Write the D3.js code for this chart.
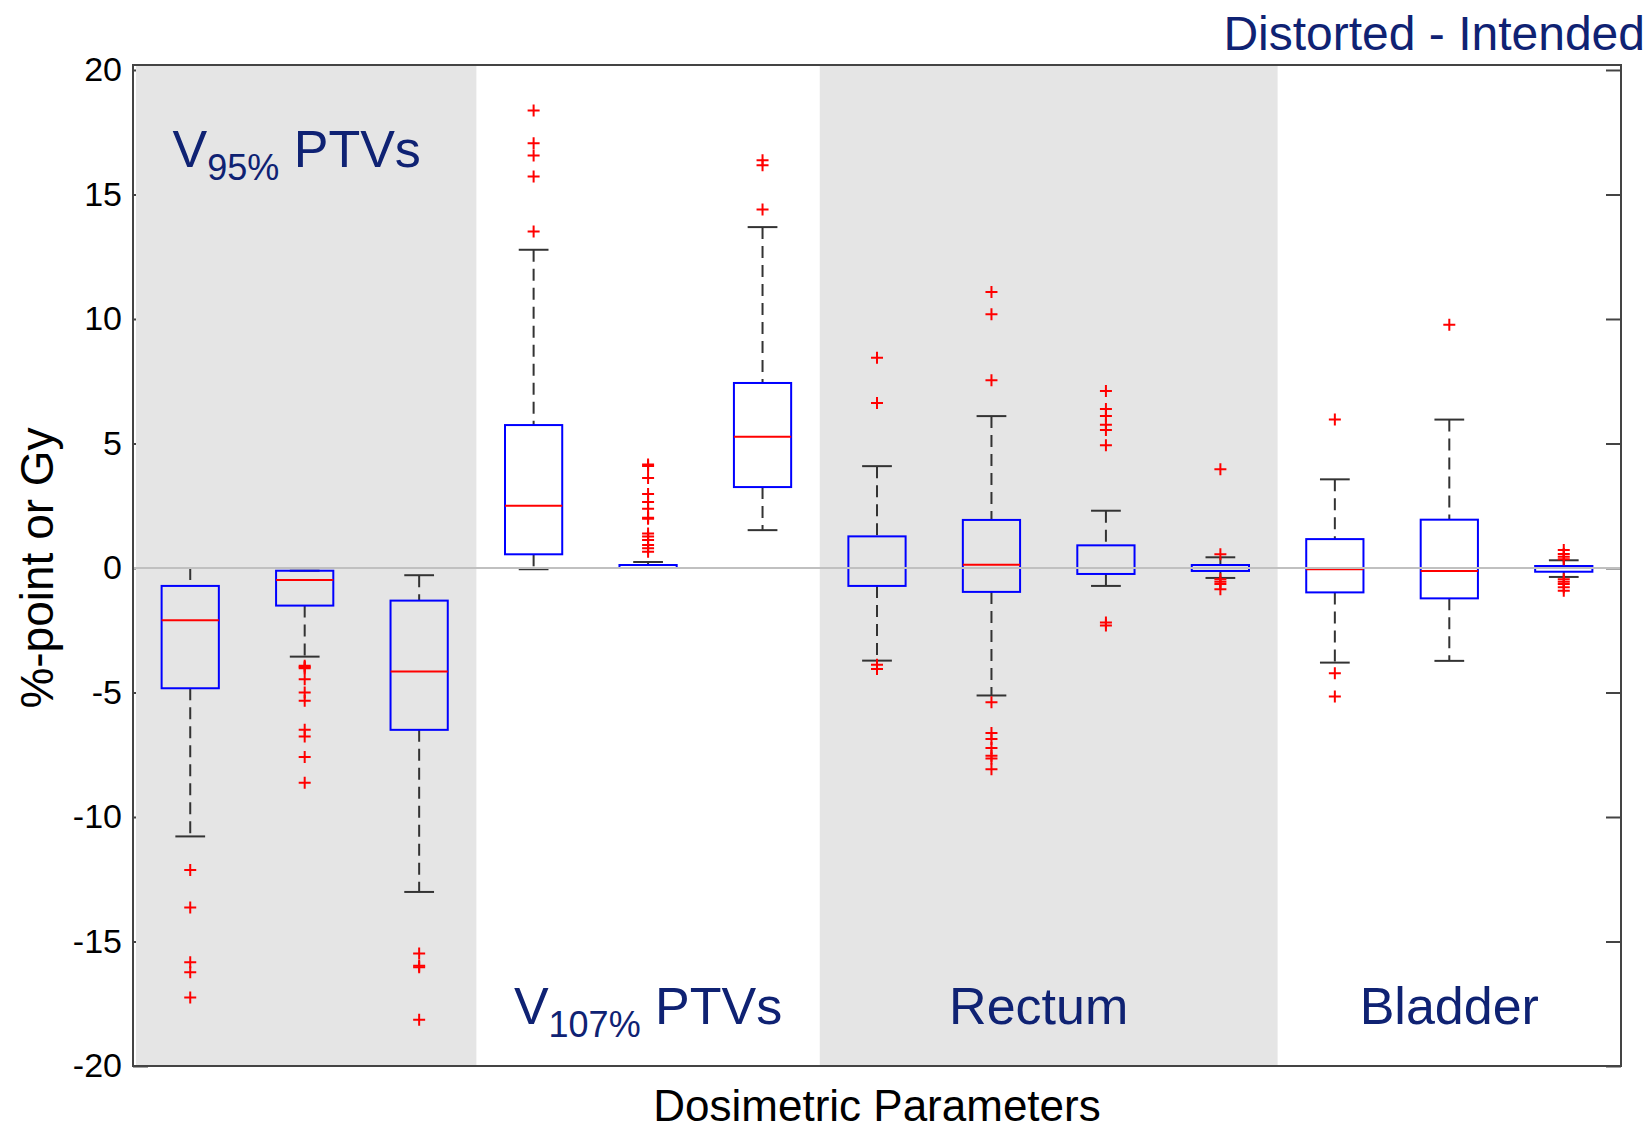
<!DOCTYPE html>
<html>
<head>
<meta charset="utf-8">
<script src="https://cdn.jsdelivr.net/npm/d3@7"></script>
<style>
body { margin:0px; padding:0px; background:#ffffff; }
svg { display:block; font-family:"Liberation Sans", Arial, Helvetica, sans-serif; }
</style>
</head>
<body>
<svg id="chart" width="1650" height="1130"></svg>
<script>
// one entry per box (13 dosimetric parameters)
var boxIds      = [1, 2, 3, 4, 5, 6, 7, 8, 9, 10, 11, 12, 13];
var whiskerLow  = [-10.78, -3.56, -13.01, -0.05, 0.00, 1.52, -3.72, -5.12, -0.72, -0.40, -3.80, -3.73, -0.36];
var quart1      = [-4.83, -1.51, -6.50, 0.55, 0.00, 3.25, -0.72, -0.96, -0.24, -0.12, -0.98, -1.22, -0.15];
var medians     = [-2.10, -0.48, -4.16, 2.50, 0.00, 5.27, 0.00, 0.13, 0.00, 0.00, -0.05, -0.12, 0.00];
var quart3      = [-0.72, -0.11, -1.31, 5.74, 0.12, 7.43, 1.27, 1.93, 0.91, 0.12, 1.16, 1.94, 0.08];
var whiskerHigh = [0.00, -0.11, -0.29, 12.78, 0.24, 13.69, 4.09, 6.10, 2.30, 0.43, 3.56, 5.96, 0.31];
var outliers = [
	[-12.13, -13.63, -15.83, -16.23, -17.25],
	[-3.93, -3.98, -4.03, -4.47, -5.00, -5.33, -6.50, -6.77, -7.59, -8.62],
	[-15.48, -15.97, -16.03, -18.14],
	[13.51, 15.72, 16.57, 17.06, 18.37],
	[0.65, 0.79, 0.92, 1.12, 1.26, 1.39, 1.98, 2.02, 2.38, 2.65, 2.97, 3.61, 4.10, 4.16],
	[14.40, 16.17, 16.37],
	[-3.89, -4.06, 6.63, 8.44],
	[-5.39, -6.63, -6.87, -7.23, -7.54, -7.65, -8.08, 7.54, 10.19, 11.08],
	[-2.19, -2.31, 4.93, 5.54, 5.75, 6.10, 6.39, 7.11],
	[-0.45, -0.55, -0.64, -0.85, 0.55, 3.97],
	[-4.23, -5.16, 5.96],
	[9.77],
	[-0.45, -0.55, -0.64, -0.77, -0.91, 0.35, 0.45, 0.56, 0.72]
];

// background groups
var groupMain   = ["V", "V", "Rectum", "Bladder"];
var groupSub    = ["95%", "107%", "", ""];
var groupRest   = [" PTVs", " PTVs", "", ""];
var groupStart  = [0.5, 3.5, 6.5, 10.5];
var groupEnd    = [3.5, 6.5, 10.5, 13.5];
var groupShaded = [true, false, true, false];

var yTicks = [-20, -15, -10, -5, 0, 5, 10, 15, 20];
var yTitle = "%-point or Gy";
var xTitle = "Dosimetric Parameters";
var topNote = "Distorted - Intended";

var svg = d3.select("#chart");
var plotL = 133, plotR = 1621, plotT = 65, plotB = 1066;
var navy = "#0f2273";

var x = d3.scaleLinear().domain([0.5, 13.5]).range([plotL, plotR]);
var y = d3.scaleLinear().domain([-20, 20.2]).range([plotB, plotT]);

// inward ticks, left and right (left ones end up mostly under the shading)
svg.append("g")
	.attr("transform", "translate(" + plotL + ",0)")
	.call(d3.axisRight(y).tickValues(yTicks).tickSize(15).tickFormat(""))
	.call(function(g) { g.select(".domain").remove(); })
	.selectAll("line").attr("stroke", "#444").attr("stroke-width", 2);
svg.append("g")
	.attr("transform", "translate(" + plotR + ",0)")
	.call(d3.axisLeft(y).tickValues(yTicks).tickSize(15).tickFormat(""))
	.call(function(g) { g.select(".domain").remove(); })
	.selectAll("line").attr("stroke", "#444").attr("stroke-width", 2);

// shaded bands
svg.selectAll("rect.band")
	.data(groupStart)
	.enter()
	.append("rect")
	.attr("class", "band")
	.attr("x", function(d) { return Math.max(x(d), plotL + 3); })
	.attr("y", plotT)
	.attr("width", function(d, i) { return x(groupEnd[i]) - Math.max(x(d), plotL + 3); })
	.attr("height", plotB - plotT)
	.attr("fill", function(d, i) { return groupShaded[i] ? "#e5e5e5" : "#ffffff"; })
	.attr("fill-opacity", function(d, i) { return groupShaded[i] ? 1 : 0; });

// tick labels (plain hyphen for negatives, like the original)
svg.append("g")
	.attr("transform", "translate(" + plotL + ",0)")
	.call(d3.axisLeft(y).tickValues(yTicks).tickSize(0).tickPadding(11)
		.tickFormat(function(d) { return String(d); }))
	.call(function(g) { g.select(".domain").remove(); })
	.selectAll("text")
	.attr("font-size", 34)
	.attr("font-family", "'Liberation Sans', Arial, sans-serif")
	.attr("fill", "#000");

var boxHalf = 0.25, capHalf = 0.13;
var boxes = svg.append("g").selectAll("g.box")
	.data(boxIds)
	.enter()
	.append("g")
	.attr("class", "box");

// whiskers
boxes.append("line")
	.attr("x1", function(d) { return x(d); })
	.attr("x2", function(d) { return x(d); })
	.attr("y1", function(d, i) { return y(whiskerHigh[i]); })
	.attr("y2", function(d, i) { return y(quart3[i]); })
	.attr("stroke", "#333").attr("stroke-width", 2).attr("stroke-dasharray", "12,7");
boxes.append("line")
	.attr("x1", function(d) { return x(d); })
	.attr("x2", function(d) { return x(d); })
	.attr("y1", function(d, i) { return y(quart1[i]); })
	.attr("y2", function(d, i) { return y(whiskerLow[i]); })
	.attr("stroke", "#333").attr("stroke-width", 2).attr("stroke-dasharray", "12,7");
boxes.append("line")
	.attr("x1", function(d) { return x(d - capHalf); })
	.attr("x2", function(d) { return x(d + capHalf); })
	.attr("y1", function(d, i) { return y(whiskerHigh[i]); })
	.attr("y2", function(d, i) { return y(whiskerHigh[i]); })
	.attr("stroke", "#333").attr("stroke-width", 2);
boxes.append("line")
	.attr("x1", function(d) { return x(d - capHalf); })
	.attr("x2", function(d) { return x(d + capHalf); })
	.attr("y1", function(d, i) { return y(whiskerLow[i]); })
	.attr("y2", function(d, i) { return y(whiskerLow[i]); })
	.attr("stroke", "#333").attr("stroke-width", 2);

// boxes + medians
boxes.append("rect")
	.attr("x", function(d) { return x(d - boxHalf); })
	.attr("y", function(d, i) { return y(quart3[i]); })
	.attr("width", x(1 + boxHalf) - x(1 - boxHalf))
	.attr("height", function(d, i) { return y(quart1[i]) - y(quart3[i]); })
	.attr("fill", "none")
	.attr("stroke", "#0000ff")
	.attr("stroke-width", 2);
boxes.append("line")
	.attr("x1", function(d) { return x(d - boxHalf); })
	.attr("x2", function(d) { return x(d + boxHalf); })
	.attr("y1", function(d, i) { return y(medians[i]); })
	.attr("y2", function(d, i) { return y(medians[i]); })
	.attr("stroke", "#ff0000").attr("stroke-width", 2);

// outliers as "+"
boxes.each(function(d, i) {
	var g = d3.select(this);
	g.selectAll("path.out")
		.data(outliers[i])
		.enter()
		.append("path")
		.attr("class", "out")
		.attr("d", function(v) {
			var cx = x(d), cy = y(v);
			return "M" + (cx - 6) + "," + cy + "H" + (cx + 6) + "M" + cx + "," + (cy - 6) + "V" + (cy + 6);
		})
		.attr("stroke", "#ff0000")
		.attr("stroke-width", 2)
		.attr("fill", "none");
});

// zero reference line
svg.append("line")
	.attr("x1", x(0.5)).attr("x2", x(13.5))
	.attr("y1", y(0)).attr("y2", y(0))
	.attr("stroke", "#c0c0c0").attr("stroke-width", 2);

// frame
svg.append("rect")
	.attr("x", plotL).attr("y", plotT)
	.attr("width", plotR - plotL).attr("height", plotB - plotT)
	.attr("fill", "none").attr("stroke", "#444").attr("stroke-width", 2);

// group labels
var labels = svg.selectAll("text.group")
	.data(groupMain)
	.enter()
	.append("text")
	.attr("class", "group")
	.attr("x", function(d, i) { return (x(groupStart[i]) + x(groupEnd[i])) / 2 + (i == 0 ? -8 : (i == 2 ? -10 : 0)); })
	.attr("y", function(d, i) { return i == 0 ? y(16.1) : y(-18.3); })
	.attr("text-anchor", "middle")
	.attr("font-size", 52)
	.attr("fill", navy);
labels.append("tspan").text(function(d) { return d; });
labels.append("tspan")
	.attr("font-size", 36)
	.attr("dy", function(d, i) { return groupSub[i] ? 13 : 0; })
	.text(function(d, i) { return groupSub[i]; });
labels.append("tspan")
	.attr("dy", function(d, i) { return groupSub[i] ? -13 : 0; })
	.text(function(d, i) { return groupRest[i]; });

// titles
svg.append("text")
	.attr("transform", "translate(53," + y(0) + ") rotate(-90)")
	.attr("text-anchor", "middle")
	.attr("font-size", 46)
	.attr("fill", "#000")
	.text(yTitle);
svg.append("text")
	.attr("x", (plotL + plotR) / 2)
	.attr("y", 1121)
	.attr("text-anchor", "middle")
	.attr("font-size", 44)
	.attr("fill", "#000")
	.text(xTitle);
svg.append("text")
	.attr("x", 1645)
	.attr("y", 50)
	.attr("text-anchor", "end")
	.attr("font-size", 48)
	.attr("fill", navy)
	.text(topNote);
</script>
</body>
</html>
